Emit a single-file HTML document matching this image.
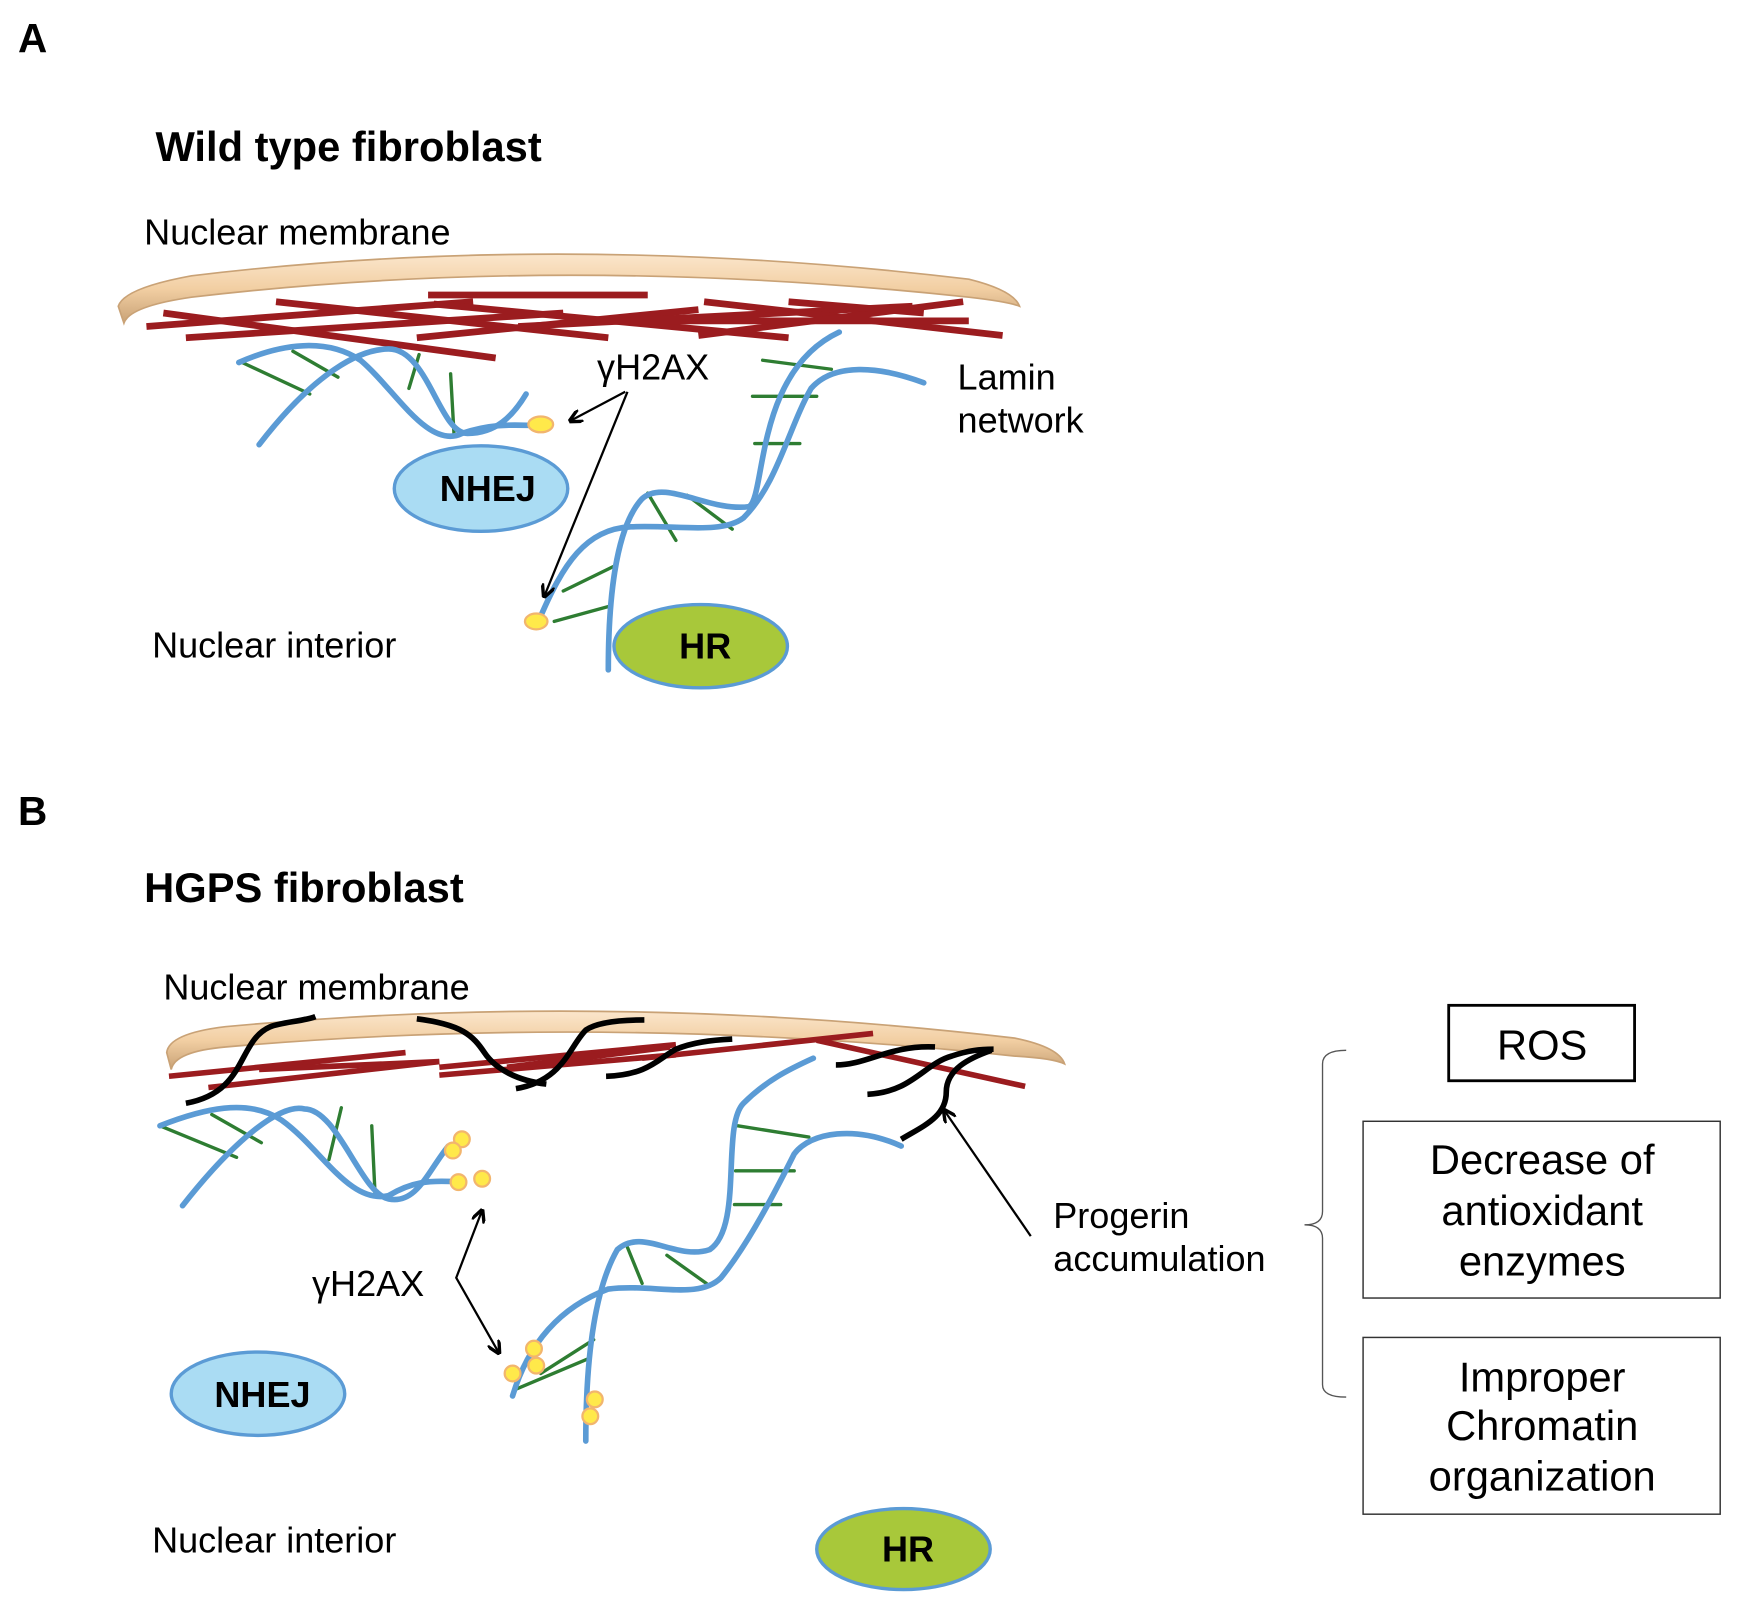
<!DOCTYPE html>
<html><head><meta charset="utf-8"><style>html,body{margin:0;padding:0;background:#fff}svg{display:block}</style></head>
<body>
<svg width="1763" height="1611" viewBox="0 0 1565 1431" preserveAspectRatio="none" xmlns="http://www.w3.org/2000/svg" font-family="'Liberation Sans', Arial, sans-serif">
<defs>
<linearGradient id="mem" x1="0" y1="0" x2="0" y2="1">
<stop offset="0" stop-color="#fbe6cc"/><stop offset="0.5" stop-color="#f2cfa3"/><stop offset="1" stop-color="#c9a276"/>
</linearGradient>
<marker id="ah" viewBox="0 0 10 10" refX="9" refY="5" markerWidth="6" markerHeight="6" orient="auto-start-reverse">
<path d="M0,0 L10,5 L0,10" fill="none" stroke="#000" stroke-width="2.5"/>
</marker>
</defs>

<!-- Panel A -->
<text x="16" y="46" font-size="36" font-weight="bold">A</text>
<text x="138" y="143" font-size="37" font-weight="bold">Wild type fibroblast</text>
<text x="128" y="217" font-size="32">Nuclear membrane</text>
<path d="M105,272 Q110,256 170,245 Q500,205 860,248 Q900,258 905,272 Q895,268 860,264 Q500,225 170,264 Q115,272 110,287 Z" fill="url(#mem)" stroke="#c9a276" stroke-width="1.5"/>
<g stroke="#9b1c1f" stroke-width="6" stroke-linecap="butt">
<line x1="130" y1="290" x2="420" y2="268"/>
<line x1="145" y1="278" x2="440" y2="318"/>
<line x1="165" y1="300" x2="500" y2="278"/>
<line x1="245" y1="268" x2="540" y2="300"/>
<line x1="380" y1="262" x2="575" y2="262"/>
<line x1="385" y1="270" x2="700" y2="300"/>
<line x1="370" y1="300" x2="620" y2="275"/>
<line x1="460" y1="290" x2="810" y2="272"/>
<line x1="625" y1="268" x2="890" y2="298"/>
<line x1="620" y1="298" x2="855" y2="268"/>
<line x1="700" y1="268" x2="820" y2="278"/>
<line x1="560" y1="285" x2="860" y2="285"/>
</g>
<g fill="none" stroke-linecap="round">
<g stroke="#2e7d32" stroke-width="3">
<line x1="215" y1="322" x2="275" y2="350"/>
<line x1="260" y1="312" x2="300" y2="335"/>
<line x1="372" y1="315" x2="363" y2="345"/>
<line x1="400" y1="332" x2="403" y2="385"/>
</g>
<path d="M230,395 C280,330 320,310 345,310 C380,310 390,385 415,385 C440,385 455,370 467,350" stroke="#5b9bd5" stroke-width="5"/>
<path d="M212,322 C250,305 290,300 320,320 C350,345 380,400 410,385 C440,375 460,378 478,378" stroke="#5b9bd5" stroke-width="5"/>
</g>
<g fill="none" stroke-linecap="round">
<g stroke="#2e7d32" stroke-width="3">
<line x1="677" y1="320" x2="738" y2="328"/>
<line x1="668" y1="352" x2="725" y2="352"/>
<line x1="670" y1="394" x2="710" y2="394"/>
<line x1="575" y1="438" x2="600" y2="480"/>
<line x1="610" y1="440" x2="650" y2="470"/>
<line x1="500" y1="525" x2="545" y2="503"/>
<line x1="492" y1="552" x2="543" y2="538"/>
</g>
<path d="M540,595 C540,540 545,470 570,443 C590,425 630,455 665,450 C680,440 670,330 745,295" stroke="#5b9bd5" stroke-width="5"/>
<path d="M478,552 C500,500 520,470 560,468 C600,466 640,475 660,460 C690,430 700,380 720,345 C740,322 780,325 820,340" stroke="#5b9bd5" stroke-width="5"/>
</g>
<ellipse cx="480" cy="377" rx="11" ry="7" fill="#ffe94a" stroke="#f2b56e" stroke-width="2"/>
<ellipse cx="476" cy="552" rx="10" ry="7" fill="#ffe94a" stroke="#f2b56e" stroke-width="2"/>
<text x="530" y="337" font-size="32">γH2AX</text>
<line x1="555" y1="348" x2="506" y2="374" stroke="#000" stroke-width="2" marker-end="url(#ah)"/>
<line x1="557" y1="348" x2="483" y2="530" stroke="#000" stroke-width="2" marker-end="url(#ah)"/>
<ellipse cx="427" cy="434" rx="77" ry="38" fill="#aadcf3" stroke="#5b9bd5" stroke-width="3"/>
<text x="433" y="445" font-size="32" font-weight="bold" text-anchor="middle">NHEJ</text>
<text x="850" y="346" font-size="32">Lamin</text>
<text x="850" y="384" font-size="32">network</text>
<ellipse cx="622" cy="574" rx="77" ry="37" fill="#a8c83a" stroke="#5b9bd5" stroke-width="3"/>
<text x="626" y="585" font-size="32" font-weight="bold" text-anchor="middle">HR</text>
<text x="135" y="584" font-size="32">Nuclear interior</text>

<!-- Panel B -->
<text x="16" y="733" font-size="36" font-weight="bold">B</text>
<text x="128" y="801" font-size="37" font-weight="bold">HGPS fibroblast</text>
<text x="145" y="888" font-size="32">Nuclear membrane</text>
<path d="M148,935 Q150,918 200,912 Q540,880 900,922 Q940,930 945,945 Q935,940 900,938 Q540,900 200,930 Q155,934 152,950 Z" fill="url(#mem)" stroke="#c9a276" stroke-width="1.5"/>
<g stroke="#9b1c1f" stroke-width="5">
<line x1="150" y1="956" x2="360" y2="935"/>
<line x1="185" y1="966" x2="390" y2="943"/>
<line x1="390" y1="948" x2="600" y2="928"/>
<line x1="390" y1="955" x2="600" y2="937"/>
<line x1="450" y1="948" x2="595" y2="930"/>
<line x1="570" y1="940" x2="775" y2="918"/>
<line x1="725" y1="924" x2="910" y2="965"/>
<line x1="230" y1="950" x2="390" y2="943"/>
</g>
<g fill="none" stroke="#000" stroke-width="5" stroke-linecap="butt">
<path d="M165,980 C220,970 210,925 240,912 C250,908 270,907 280,903"/>
<path d="M370,905 C410,910 420,920 430,935 C440,950 460,960 485,963"/>
<path d="M458,967 C500,960 505,930 520,915 C530,908 550,906 572,906"/>
<path d="M538,956 C575,955 585,940 600,932 C615,926 630,924 650,923"/>
<path d="M742,946 C770,946 790,928 830,930"/>
<path d="M770,972 C810,970 820,945 845,938 C860,933 870,932 882,932"/>
<path d="M800,1012 C820,1000 840,992 840,970 C840,950 860,940 880,933"/>
</g>
<g fill="none" stroke-linecap="round">
<g stroke="#2e7d32" stroke-width="3">
<line x1="142" y1="1000" x2="210" y2="1028"/>
<line x1="188" y1="990" x2="232" y2="1015"/>
<line x1="303" y1="984" x2="292" y2="1030"/>
<line x1="330" y1="1000" x2="333" y2="1062"/>
</g>
<path d="M162,1071 C210,1010 250,980 270,985 C300,985 320,1060 345,1065 C370,1070 380,1040 398,1018" stroke="#5b9bd5" stroke-width="5"/>
<path d="M142,1000 C180,985 220,975 250,995 C285,1020 310,1070 345,1062 C365,1050 380,1048 408,1050" stroke="#5b9bd5" stroke-width="5"/>
</g>
<g fill="none" stroke-linecap="round">
<g stroke="#2e7d32" stroke-width="3">
<line x1="655" y1="1000" x2="718" y2="1010"/>
<line x1="653" y1="1040" x2="705" y2="1040"/>
<line x1="652" y1="1070" x2="693" y2="1070"/>
<line x1="557" y1="1108" x2="570" y2="1140"/>
<line x1="592" y1="1115" x2="627" y2="1140"/>
<line x1="480" y1="1220" x2="527" y2="1190"/>
<line x1="458" y1="1234" x2="522" y2="1207"/>
</g>
<path d="M520,1280 C520,1220 525,1150 548,1110 C570,1090 600,1120 630,1110 C660,1090 640,1000 660,980 C680,960 700,950 722,940" stroke="#5b9bd5" stroke-width="5"/>
<path d="M455,1240 C470,1190 500,1160 540,1145 C580,1140 620,1155 640,1135 C660,1110 680,1075 705,1025 C720,1005 760,1000 800,1018" stroke="#5b9bd5" stroke-width="5"/>
</g>
<g fill="#ffe94a" stroke="#f2b56e" stroke-width="2">
<circle cx="410" cy="1012" r="7"/><circle cx="402" cy="1022" r="7"/>
<circle cx="407" cy="1050" r="7"/><circle cx="428" cy="1047" r="7"/>
<circle cx="474" cy="1198" r="7"/><circle cx="476" cy="1213" r="7"/><circle cx="455" cy="1220" r="7"/>
<circle cx="528" cy="1243" r="7"/><circle cx="524" cy="1258" r="7"/>
</g>
<text x="277" y="1151" font-size="32">γH2AX</text>
<polyline points="428,1075 405,1135 443,1202" fill="none" stroke="#000" stroke-width="2" marker-start="url(#ah)" marker-end="url(#ah)"/>
<line x1="915" y1="1098" x2="838" y2="986" stroke="#000" stroke-width="2" marker-end="url(#ah)"/>
<text x="935" y="1091" font-size="32">Progerin</text>
<text x="935" y="1129" font-size="32">accumulation</text>
<path d="M1195,933 Q1174,933 1174,945 L1174,1076 Q1174,1088 1158,1088 Q1174,1088 1174,1100 L1174,1230 Q1174,1241 1195,1241" fill="none" stroke="#555" stroke-width="1.2"/>
<rect x="1286" y="893" width="165" height="67" fill="#fff" stroke="#000" stroke-width="2.5"/>
<text x="1369" y="941" font-size="37" text-anchor="middle">ROS</text>
<rect x="1210" y="996" width="317" height="157" fill="#fff" stroke="#333" stroke-width="1.3"/>
<text x="1369" y="1043" font-size="37" text-anchor="middle">Decrease of</text>
<text x="1369" y="1088" font-size="37" text-anchor="middle">antioxidant</text>
<text x="1369" y="1133" font-size="37" text-anchor="middle">enzymes</text>
<rect x="1210" y="1188" width="317" height="157" fill="#fff" stroke="#333" stroke-width="1.3"/>
<text x="1369" y="1236" font-size="37" text-anchor="middle">Improper</text>
<text x="1369" y="1279" font-size="37" text-anchor="middle">Chromatin</text>
<text x="1369" y="1324" font-size="37" text-anchor="middle">organization</text>
<ellipse cx="229" cy="1238" rx="77" ry="37" fill="#aadcf3" stroke="#5b9bd5" stroke-width="3"/>
<text x="233" y="1250" font-size="32" font-weight="bold" text-anchor="middle">NHEJ</text>
<ellipse cx="802" cy="1376" rx="77" ry="36" fill="#a8c83a" stroke="#5b9bd5" stroke-width="3"/>
<text x="806" y="1387" font-size="32" font-weight="bold" text-anchor="middle">HR</text>
<text x="135" y="1379" font-size="32">Nuclear interior</text>
</svg>
</body></html>
